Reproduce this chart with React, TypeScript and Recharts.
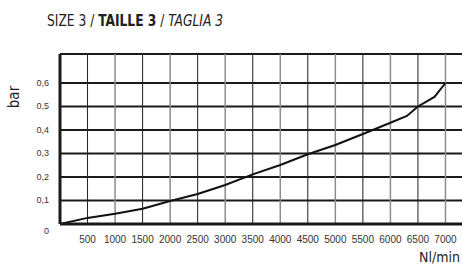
import React from "react";
import { LineChart, Line, XAxis, YAxis, CartesianGrid, ReferenceLine } from "recharts";

const flow = [0, 500, 1000, 1500, 2000, 2500, 3000, 3500, 4000, 4500, 5000, 5500, 6000, 6300, 6500, 6800, 7000];
const pressure = [0, 0.026, 0.044, 0.065, 0.098, 0.128, 0.166, 0.211, 0.251, 0.297, 0.336, 0.383, 0.431, 0.46, 0.5, 0.541, 0.6];

const xTicks = [500, 1000, 1500, 2000, 2500, 3000, 3500, 4000, 4500, 5000, 5500, 6000, 6500, 7000];
const yTicks = [0, 0.1, 0.2, 0.3, 0.4, 0.5, 0.6];

const data = flow.map((f, i) => ({ flow: f, bar: pressure[i] }));

const condensed = "'Liberation Sans Narrow', 'DejaVu Sans Condensed', 'Roboto Condensed', sans-serif";
const plain = "'Liberation Sans', Arial, sans-serif";

const YTick = ({ x, y, payload }: any) => (
  <text
    x={x}
    y={y + (payload.value === 0 ? 7 : 0)}
    textAnchor="end"
    dominantBaseline="central"
    fontSize={9}
    fontFamily={plain}
    fill="#333"
  >
    {payload.value === 0 ? "0" : payload.value.toFixed(1).replace(".", ",")}
  </text>
);

export default function App() {
  return (
    <div style={{ position: "absolute", left: 0, top: 0, width: 462, height: 268, background: "#fff", overflow: "hidden" }}>
      <LineChart width={462} height={268} data={data} margin={{ top: 54, right: 0, left: 0, bottom: 0 }}>
        <CartesianGrid vertical={false} stroke="#1a1a1a" strokeWidth={2} />
        {xTicks.map((t, i) => (
          <ReferenceLine key={t} x={t} stroke={i % 2 === 0 ? "#1f1f1f" : "#8c8c8c"} strokeWidth={i % 2 === 0 ? 1 : 1.5} />
        ))}
        <XAxis
          dataKey="flow"
          type="number"
          domain={[0, 7300]}
          ticks={xTicks}
          height={44}
          tickLine={false}
          tickMargin={6}
          axisLine={{ stroke: "#1a1a1a", strokeWidth: 3 }}
          tick={{ fontSize: 10, fontFamily: plain, fill: "#333" }}
        />
        <YAxis
          type="number"
          domain={[0, 0.7234]}
          ticks={yTicks}
          width={60}
          tickLine={false}
          tickMargin={5}
          axisLine={{ stroke: "#1a1a1a", strokeWidth: 3 }}
          tick={<YTick />}
        />
        <Line
          dataKey="bar"
          type="linear"
          stroke="#111"
          strokeWidth={2}
          dot={false}
          isAnimationActive={false}
        />
      </LineChart>
      <svg width={462} height={268} style={{ position: "absolute", left: 0, top: 0, pointerEvents: "none" }}>
        <text x={47} y={26} fontSize={15} fontFamily={condensed} fill="#222" transform="translate(47 0) scale(0.91 1) translate(-47 0)">
          <tspan>SIZE 3 / </tspan>
          <tspan fontWeight="bold">TAILLE 3</tspan>
          <tspan> / </tspan>
          <tspan fontStyle="italic">TAGLIA 3</tspan>
        </text>
        <text
          x={19}
          y={97}
          transform="rotate(-90 19 97)"
          textAnchor="middle"
          fontSize={15}
          fontFamily={condensed}
          fill="#222"
        >
          bar
        </text>
        <text x={419} y={262} fontSize={14} fontFamily={condensed} fill="#222">
          Nl/min
        </text>
      </svg>
    </div>
  );
}
